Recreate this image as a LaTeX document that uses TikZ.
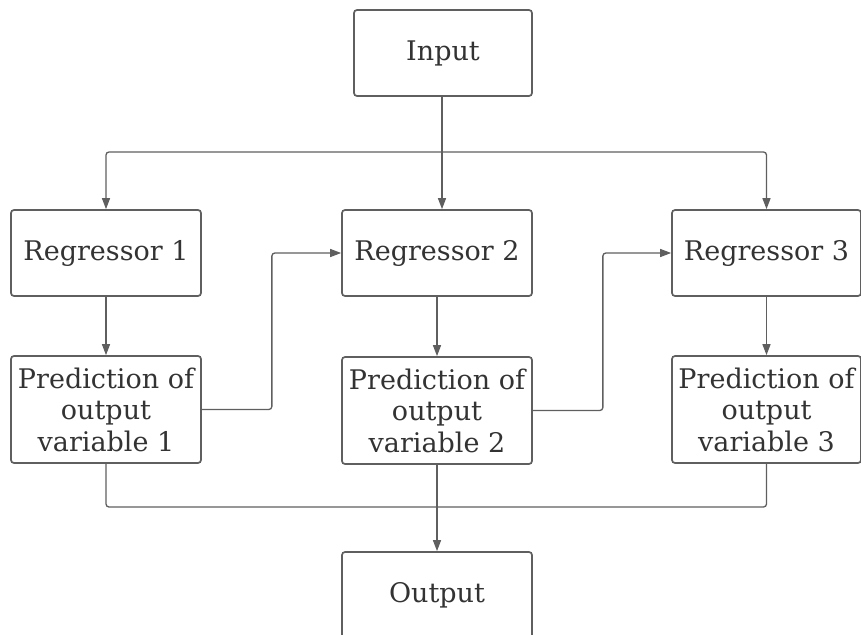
\documentclass[tikz,border=0pt]{standalone}
\usepackage{fontspec}
\setmainfont{DejaVu Serif}
\usetikzlibrary{arrows.meta}
\definecolor{ln}{HTML}{5F5F5F}
\definecolor{tx}{HTML}{333333}
\begin{document}
\begin{tikzpicture}[x=1pt,y=-1pt,
  box/.style={draw=ln, line width=1.7pt, rounded corners=3pt, inner sep=0pt, text=tx,
    font=\fontsize{27}{31.5}\selectfont, align=center},
  conn/.style={draw=ln, line width=1.3pt, rounded corners=3pt},
  arr/.style={conn, -{Triangle[length=11pt,width=8pt]}}]
\useasboundingbox (0,0) rectangle (861,634);
\node[box, minimum width=178pt, minimum height=86pt] (in) at (443,53) {Input};
\node[box, minimum width=190pt, minimum height=86pt] (r1) at (106,253) {Regressor 1};
\node[box, minimum width=190pt, minimum height=86pt] (r2) at (437,253) {Regressor 2};
\node[box, minimum width=189pt, minimum height=86pt] (r3) at (766.5,253) {Regressor 3};
\node[box, minimum width=190pt, minimum height=107pt] (p1) at (106,409.5) {Prediction of\\output\\variable 1};
\node[box, minimum width=190pt, minimum height=107pt] (p2) at (437,410.5) {Prediction of\\output\\variable 2};
\node[box, minimum width=189pt, minimum height=107pt] (p3) at (766.5,409.5) {Prediction of\\output\\variable 3};
\node[box, minimum width=190pt, minimum height=86pt] (out) at (437,595) {Output};
\coordinate (top) at (442,152);
\coordinate (bot) at (437,507);
% distribution
\draw[conn] (in.south -| top) -- (top);
\draw[arr] (top) -| (r1.north);
\draw[arr] (top) -| (r3.north);
\draw[arr] (top) -- (top |- r2.north);
% chain
\draw[arr] (p1.east) -- ++(70,0) |- (r2.west);
\draw[arr] (p2.east) -- ++(70,0) |- (r3.west);
% vertical
\draw[arr] (r1.south) -- (p1.north);
\draw[arr] (r2.south) -- (p2.north);
\draw[arr] (r3.south) -- (p3.north);
% collection
\draw[conn] (p1.south) |- (bot);
\draw[conn] (p3.south) |- (bot);
\draw[conn] (p2.south) -- (bot);
\draw[arr] (bot) -- (out.north);
\end{tikzpicture}
\end{document}
